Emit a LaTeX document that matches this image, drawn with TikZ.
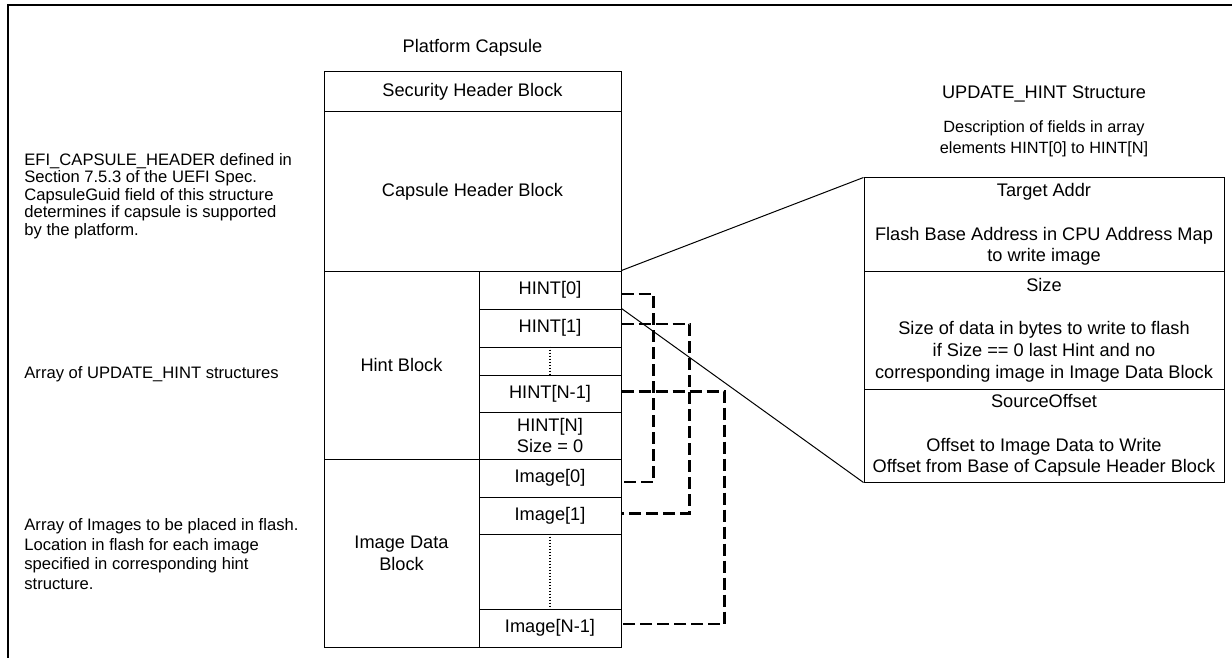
\documentclass[tikz,border=0pt]{standalone}
\usepackage{fontspec}
\setmainfont{Liberation Sans}
\usepackage{tikz}

\begin{document}
\begin{tikzpicture}[x=0.5pt, y=-0.5pt,
    cell/.style={draw, line width=0.5pt, inner sep=0pt, align=center, font=\fontsize{9.1}{10.85}\selectfont},
    note/.style={anchor=west, inner sep=0pt, align=left},
    title/.style={inner sep=0pt, font=\fontsize{9.1}{10.85}\selectfont},
    link/.style={line width=1.1pt, dash pattern=on 6pt off 2.5pt},
    gap/.style={line width=0.75pt, dash pattern=on 0.6pt off 0.9pt},
    frame/.style={line width=1.3pt}]
    \useasboundingbox (0,0) rectangle (1232,658);
    \draw[frame] (1240,5) -- (8,5) -- (8,665);

    % platform capsule
    \node[title] (cap) at (472.5,48) {Platform Capsule};
    \node[cell, minimum width=148.5pt, minimum height=20pt] (sec) at (472.5,92) {Security Header Block};
    \node[cell, minimum width=148.5pt, minimum height=79.5pt] (chb) at (472.5,191.5) {Capsule Header Block};
    \node[cell, minimum width=77.5pt, minimum height=94pt] (hintblk) at (401.5,365) {Hint Block};
    \node[cell, minimum width=77.5pt, minimum height=94pt] (imgblk) at (401.5,553) {Image Data\\Block};

    % hint and image entries
    \node[cell, minimum width=71pt, minimum height=19pt] (h0) at (550,290) {HINT[0]};
    \node[cell, minimum width=71pt, minimum height=19pt] (h1) at (550,328) {HINT[1]};
    \node[cell, minimum width=71pt, minimum height=14pt] (hdots) at (550,361) {};
    \node[cell, minimum width=71pt, minimum height=18.5pt] (hn1) at (550,393.5) {HINT[N-1]};
    \node[cell, minimum width=71pt, minimum height=23.5pt] (hn) at (550,435.5) {HINT[N]\\Size = 0};
    \node[cell, minimum width=71pt, minimum height=19pt] (i0) at (550,478) {Image[0]};
    \node[cell, minimum width=71pt, minimum height=18.5pt] (i1) at (550,515.5) {Image[1]};
    \node[cell, minimum width=71pt, minimum height=37.5pt] (idots) at (550,571.5) {};
    \node[cell, minimum width=71pt, minimum height=19pt] (in1) at (550,628) {Image[N-1]};
    \draw[gap] (hdots.north) -- (hdots.south);
    \draw[gap] (idots.north) -- (idots.south);

    % hint to image links
    \draw[link] ([yshift=-2pt]h0.east) -- ++(32,0) |- ([yshift=-2pt]i0.east);
    \draw[link] ([yshift=2pt]h1.east) -- ++(68,0) |- ([yshift=1pt]i1.east);
    \draw[link] ([yshift=1pt]hn1.east) -- ++(103,0) |- ([yshift=2pt]in1.east);

    % UPDATE_HINT structure
    \node[title] (uh) at (1044,94) {UPDATE\_HINT Structure};
    \node[inner sep=0pt, align=center, font=\fontsize{8.15}{10.5}\selectfont] (desc) at (1044,139)
        {Description of fields in array\\elements HINT[0] to HINT[N]};
    \node[cell, minimum width=180pt, minimum height=46.5pt] (ta) at (1044,224.5)
        {Target Addr\\[10.85pt]Flash Base Address in CPU Address Map\\to write image};
    \node[cell, minimum width=180pt, minimum height=59pt] (sz) at (1044,330)
        {Size\\[10.85pt]Size of data in bytes to write to flash\\if Size == 0 last Hint and no\\corresponding image in Image Data Block};
    \node[cell, minimum width=180pt, minimum height=46.5pt] (so) at (1044,435.5)
        {SourceOffset\\[10.85pt]Offset to Image Data to Write\\Offset from Base of Capsule Header Block};
    \draw[line width=0.5pt] (h0.north east) -- (ta.north west);
    \draw[line width=0.5pt] (h1.north east) -- (so.south west);

    % notes
    \node[note, font=\fontsize{8.3}{8.8}\selectfont] (efi) at (24,196)
        {EFI\_CAPSULE\_HEADER defined in\\Section 7.5.3 of the UEFI Spec.\\CapsuleGuid field of this structure\\determines if capsule is supported\\by the platform.};
    \node[note, font=\fontsize{8.3}{9.9}\selectfont] (hintnote) at (24,374)
        {Array of UPDATE\_HINT structures};
    \node[note, font=\fontsize{8.3}{9.9}\selectfont] (imgnote) at (24,554)
        {Array of Images to be placed in flash.\\Location in flash for each image\\specified in corresponding hint\\structure.};
\end{tikzpicture}
\end{document}
